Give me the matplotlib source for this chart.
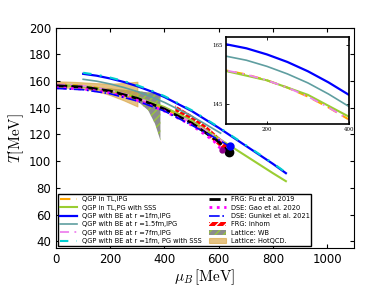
import matplotlib
matplotlib.use("Agg")
import matplotlib.pyplot as plt

# ---- data ----
mu_tl = [0, 50, 100, 150, 200, 250, 300, 350, 400, 500, 600, 620]
T_tl_ipg = [157.5, 157.2, 156.4, 155.0, 153.0, 150.5, 147.4, 143.7, 139.5, 129.3, 117.0, 114.0]
T_r7_ipg = [157.5, 157.2, 156.4, 155.0, 153.0, 150.5, 147.4, 143.7, 139.5, 129.3, 117.0, 114.0]

mu_sss = [0, 100, 200, 300, 400, 500, 600, 700, 800, 848]
T_tl_sss = [157.0, 156.2, 153.0, 148.0, 140.5, 130.5, 117.0, 104.0, 91.0, 85.0]

mu_be = [100, 150, 200, 250, 300, 350, 400, 500, 600, 700, 800, 848]
T_r1_ipg = [165.4, 164.0, 161.9, 159.3, 156.1, 152.3, 148.0, 137.6, 125.0, 111.5, 98.0, 91.0]
T_r1_sss = [166.2, 164.7, 162.6, 160.0, 156.8, 153.0, 148.7, 138.2, 125.5, 112.0, 98.5, 91.5]

mu_r15 = [100, 150, 200, 250, 300, 350, 400, 500, 607]
T_r15_ipg = [161.3, 159.9, 157.8, 155.2, 152.1, 148.3, 144.0, 133.8, 121.0]

mu_fu = [0, 100, 200, 300, 400, 500, 600, 637]
T_fu = [156.5, 155.5, 152.5, 147.0, 139.0, 128.5, 114.5, 106.8]

mu_gao = [0, 100, 200, 300, 400, 500, 580, 611]
T_gao = [155.0, 154.0, 151.0, 145.5, 137.5, 127.0, 115.5, 108.5]

mu_gunkel = [0, 100, 200, 300, 400, 500, 600, 641]
T_gunkel = [154.5, 153.5, 150.5, 145.0, 137.5, 127.0, 116.0, 111.0]

mu_inhom = [440, 500, 560, 633]
T_inhom_hi = [141.8, 134.5, 125.5, 112.0]
T_inhom_lo = [137.0, 129.0, 119.0, 105.5]

mu_wb = [0, 100, 200, 250, 300, 340, 365, 385]
T_wb_hi = [157.0, 156.0, 154.5, 153.5, 152.5, 151.5, 151.0, 150.5]
T_wb_lo = [156.0, 155.0, 151.5, 148.5, 145.0, 138.0, 128.0, 115.5]

mu_hot = [0, 50, 100, 150, 200, 250, 300]
T_hot_hi = [159.8, 159.5, 159.0, 158.4, 158.0, 158.5, 159.5]
T_hot_lo = [155.2, 155.0, 154.2, 152.5, 149.5, 145.5, 141.0]

plt.rcParams.update({
    "xtick.direction": "in",
    "ytick.direction": "in",
    "xtick.top": True,
    "ytick.right": True,
    "hatch.linewidth": 1.0,
    "mathtext.fontset": "cm",
})

fig = plt.figure(figsize=(3.74, 2.91), dpi=100)
ax = fig.add_axes([0.150, 0.148, 0.797, 0.757])


def draw_lines(a, with_sss=True):
    a.plot(mu_tl, T_tl_ipg, color="orange", ls=(0, (5, 3)), lw=1.5, label="QGP in TL,IPG")
    a.plot(mu_sss, T_tl_sss, color="yellowgreen", lw=1.5, label="QGP in TL,PG with SSS")
    a.plot(mu_be, T_r1_ipg, color="blue", lw=1.6, label="QGP with BE at r =1fm,IPG")
    a.plot(mu_r15, T_r15_ipg, color="cadetblue", lw=1.2, label="QGP with BE at r =1.5fm,IPG")
    a.plot(mu_tl, T_r7_ipg, color="violet", ls=(0, (5, 3, 1, 3)), lw=1.3,
           label="QGP with BE at r =7fm,IPG")
    if with_sss:
        a.plot(mu_be, T_r1_sss, color="darkturquoise", ls=(0, (4, 4, 1, 4)), lw=1.5,
               label="QGP with BE at r =1fm, PG with SSS")


draw_lines(ax)
ax.plot(mu_fu, T_fu, color="black", ls=(0, (4, 1.5)), lw=2, label="FRG: Fu et al. 2019")
ax.plot(mu_gao, T_gao, color="magenta", ls=":", lw=2, label="DSE: Gao et al. 2020")
ax.plot(mu_gunkel, T_gunkel, color="blue", ls="-.", lw=1.2, label="DSE: Gunkel et al. 2021")
ax.fill_between(mu_inhom, T_inhom_lo, T_inhom_hi, facecolor="red", edgecolor="white",
                hatch="////", lw=0, label="FRG: inhom")
ax.fill_between(mu_wb, T_wb_lo, T_wb_hi, facecolor="gray", edgecolor="yellowgreen",
                hatch="////", lw=0, alpha=0.9, label="Lattice: WB")
ax.fill_between(mu_hot, T_hot_lo, T_hot_hi, facecolor="#d9a441", edgecolor="#d9a441",
                alpha=0.65, lw=0.8, label="Lattice: HotQCD.")
ax.plot(mu_fu[-1], T_fu[-1], "o", color="black", ms=6)
ax.plot(mu_gunkel[-1], T_gunkel[-1], "o", color="blue", ms=5)
ax.plot(mu_gao[-1], T_gao[-1], "o", color="darkmagenta", ms=3.5)

ax.set_xlim(0, 1100)
ax.set_ylim(35, 200)
ax.set_xticks([0, 200, 400, 600, 800, 1000])
ax.set_yticks([40, 60, 80, 100, 120, 140, 160, 180, 200])
ax.tick_params(labelsize=8.5, length=3, width=0.8)
ax.set_xlabel(r"$\mu_B\,[\mathrm{MeV}]$", fontsize=11, labelpad=1)
ax.set_ylabel(r"$T[\mathrm{MeV}]$", fontsize=11, labelpad=2)

leg = ax.legend(loc="lower left", ncol=2, fontsize=4.8, frameon=True, fancybox=False,
                edgecolor="black", borderaxespad=0.3, labelspacing=0.35,
                handlelength=2.6, columnspacing=1.0, handletextpad=0.7,
                borderpad=0.3)
leg.get_frame().set_linewidth(1.0)
leg.get_frame().set_alpha(1)

# inset
axi = fig.add_axes([0.604, 0.574, 0.329, 0.300])
draw_lines(axi, with_sss=False)
axi.set_xlim(100, 400)
axi.set_ylim(138, 168)
axi.set_xticks([200, 400])
axi.set_yticks([145, 165])
axi.tick_params(labelsize=4, length=2, width=0.6, pad=2)
for lab in axi.get_xticklabels() + axi.get_yticklabels():
    lab.set_family("DejaVu Serif")
for sp in axi.spines.values():
    sp.set_linewidth(1.2)

fig.savefig("out.png", dpi=100)
